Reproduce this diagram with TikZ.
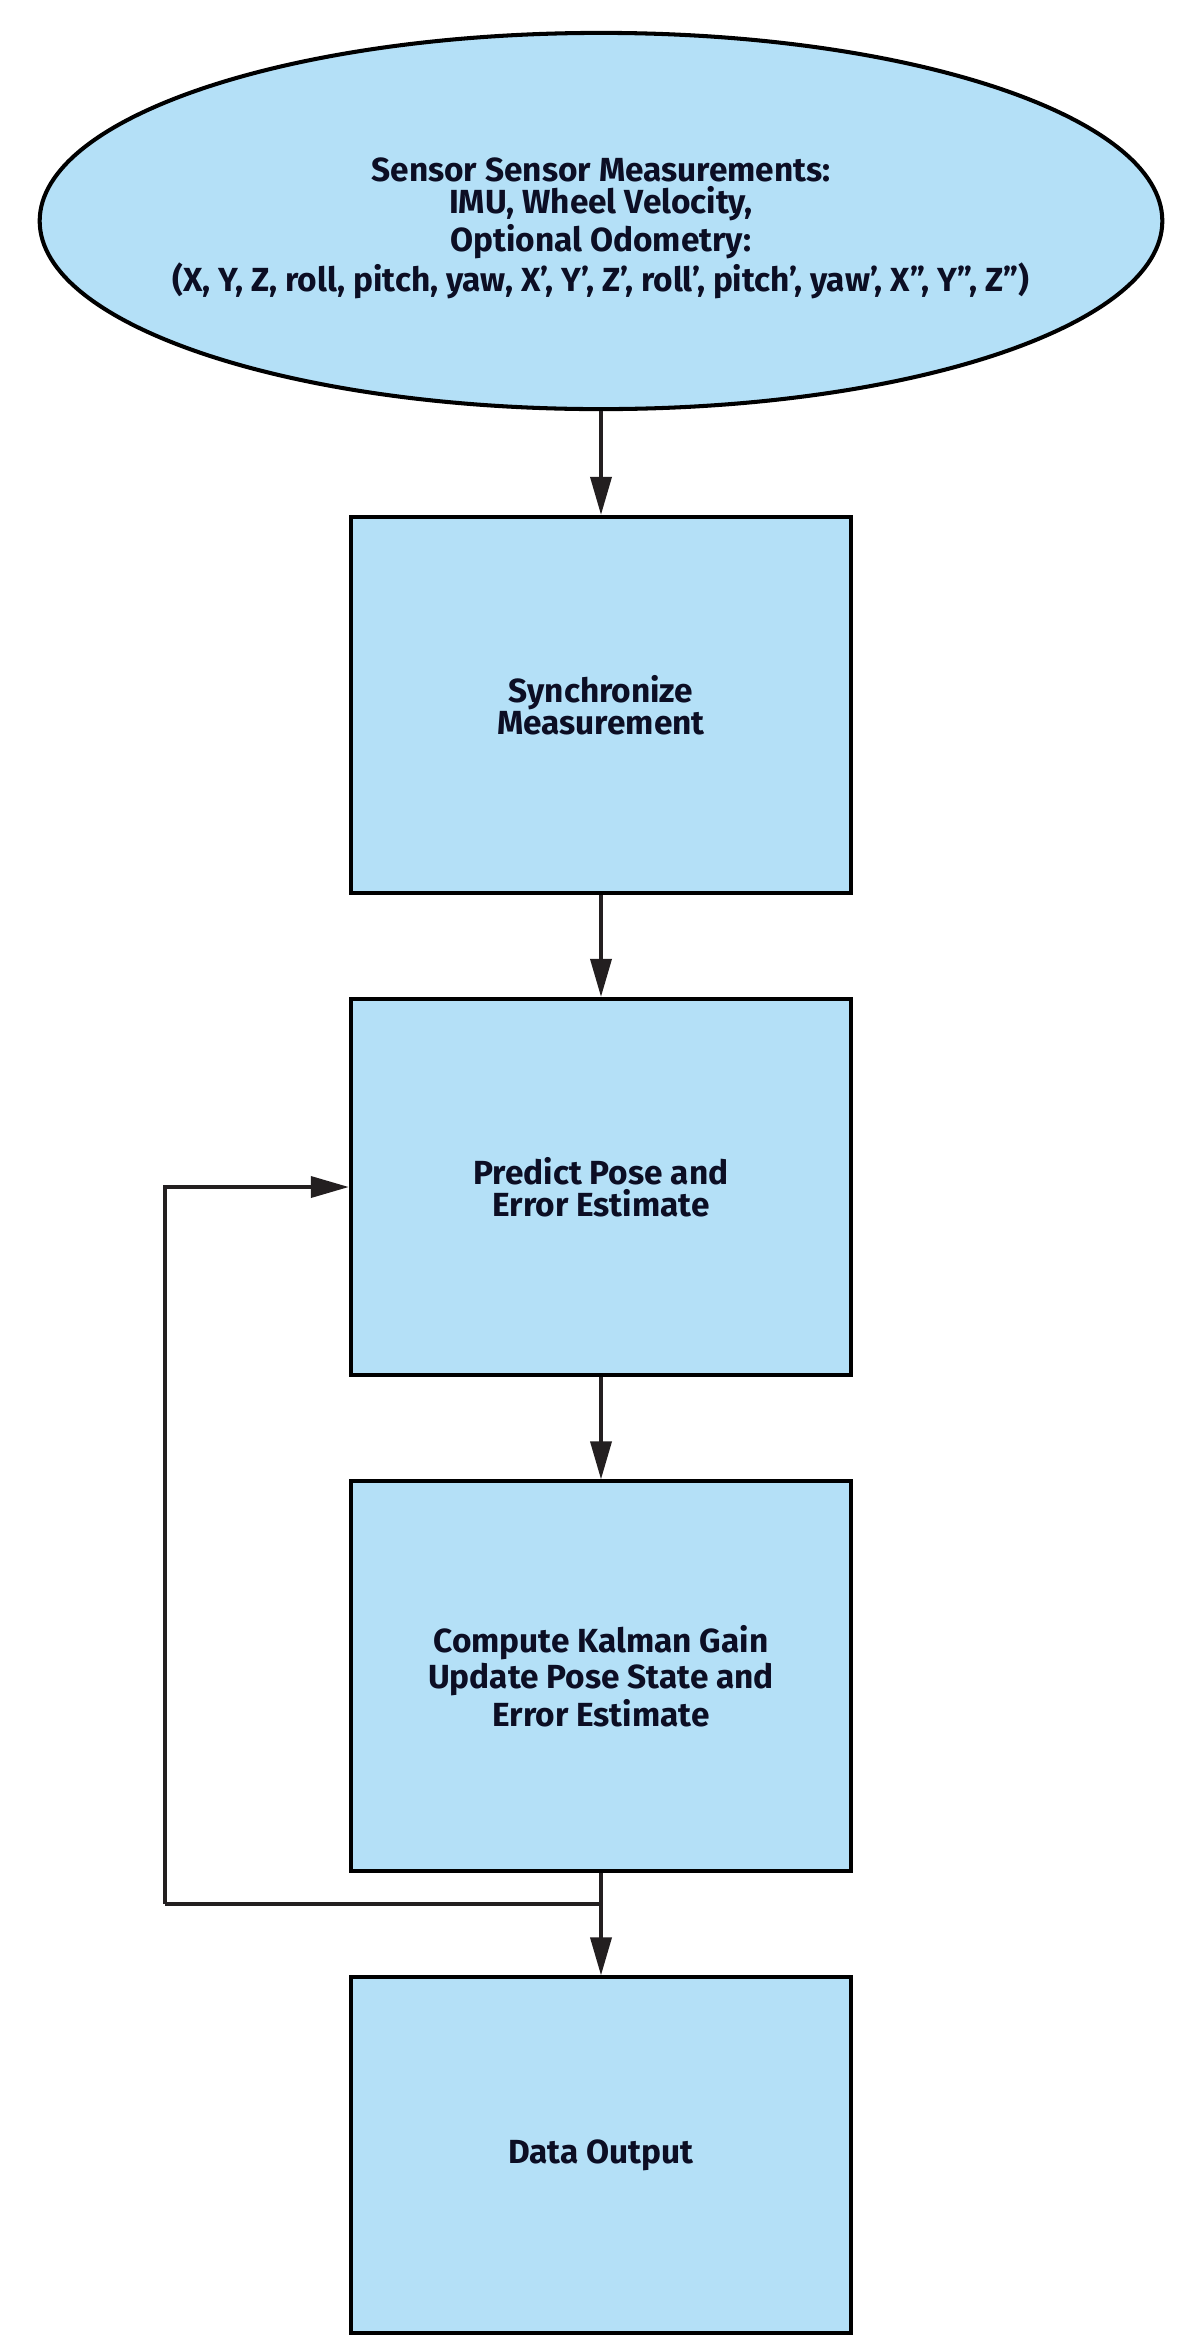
\documentclass[tikz,border=0pt]{standalone}
\usepackage{fontspec}
\setmainfont{Fira Sans}
\usepackage{tikz}
\usetikzlibrary{arrows.meta,shapes.geometric}

\definecolor{skyfill}{RGB}{180,224,247}
\definecolor{inktxt}{RGB}{12,14,36}
\definecolor{wireblk}{RGB}{35,31,32}

\begin{document}
\begin{tikzpicture}[x=0.01cm,y=-0.01cm,
  stage/.style={draw=black,fill=skyfill,line width=1.15pt,minimum width=5cm,
    minimum height=3.76cm,inner sep=0pt,align=center,text=inktxt,
    font=\fontsize{9.5}{9.2}\selectfont\bfseries},
  source/.style={ellipse,draw=black,fill=skyfill,line width=1.15pt,
    minimum width=11.22cm,minimum height=3.76cm,inner sep=0pt},
  srctext/.style={align=center,text=inktxt,yshift=-0.07cm,
    font=\fontsize{9.5}{9.2}\selectfont\bfseries},
  flow/.style={draw=wireblk,line width=1.05pt,-{Triangle[length=3.8mm,width=2.1mm]}},
  wire/.style={draw=wireblk,line width=1.05pt}]
\useasboundingbox (0,0) rectangle (1200,2348);
% the sensor source on top, then the four stages
\node[source,label={[srctext]center:{Sensor Sensor Measurements:\\IMU, Wheel Velocity,\\Optional Odometry:\\(X, Y, Z, roll, pitch, yaw, X’, Y’, Z’, roll’, pitch’, yaw’, X”, Y”, Z”)}}] (sens) at (601,221) {};
\node[stage] (sync) at (601,705) {Synchronize\\Measurement};
\node[stage] (pred) at (601,1187) {Predict Pose and\\Error Estimate};
\node[stage,minimum height=3.89cm] (upd) at (601,1676) {Compute Kalman Gain\\Update Pose State and\\Error Estimate};
\node[stage,minimum height=3.55cm] (out) at (601,2155) {Data Output};
% straight flow
\draw[flow] (sens.south) -- (sync.north);
\draw[flow] (sync.south) -- (pred.north);
\draw[flow] (pred.south) -- (upd.north);
\draw[flow] (upd.south) -- (out.north);
% feedback loop back into the prediction
\coordinate (jn) at (601,1904);
\coordinate (back) at (165,1904);
\draw[wire] (jn) -- (back);
\draw[flow] (back) |- (pred.west);
\end{tikzpicture}
\end{document}
